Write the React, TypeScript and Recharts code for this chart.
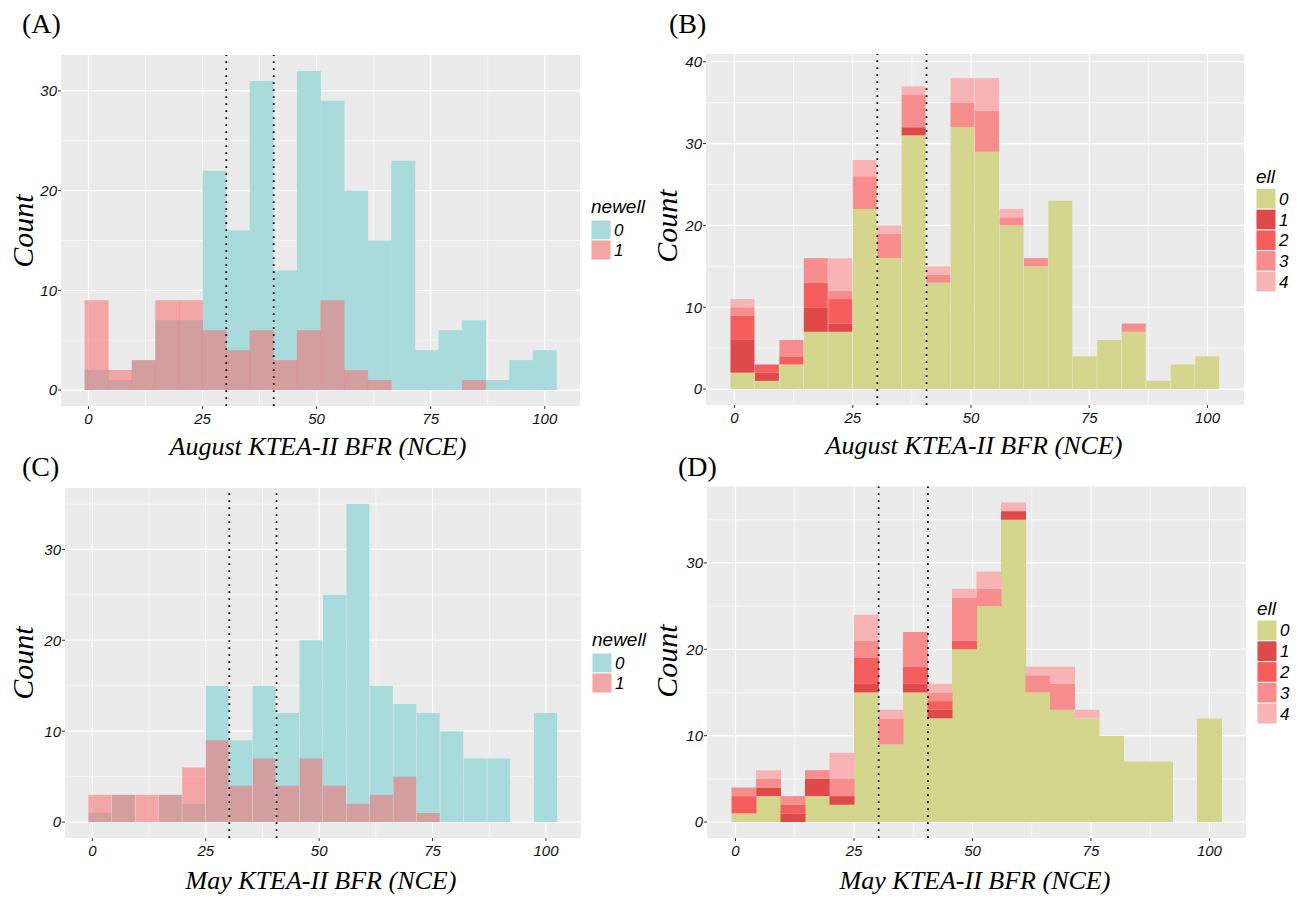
import React from 'react';
import { BarChart, Bar, XAxis, YAxis, CartesianGrid, ReferenceLine } from 'recharts';

// ---- binning (20 histogram bins) ----
const BIN_COUNT = 20;
const BIN_START = -0.85;
const BIN_WIDTH = 5.17;

// ---- August KTEA-II BFR, by newell ----
const augNewell0 = [2, 1, 3, 7, 7, 22, 16, 31, 12, 32, 29, 20, 15, 23, 4, 6, 7, 1, 3, 4];
const augNewell1 = [9, 2, 3, 9, 9, 6, 4, 6, 3, 6, 9, 2, 1, 0, 0, 0, 1, 0, 0, 0];

// ---- August KTEA-II BFR, by ell ----
const augEll0 = [2, 1, 3, 7, 7, 22, 16, 31, 13, 32, 29, 20, 15, 23, 4, 6, 7, 1, 3, 4];
const augEll1 = [4, 1, 0, 3, 1, 0, 0, 1, 0, 0, 0, 0, 0, 0, 0, 0, 0, 0, 0, 0];
const augEll2 = [3, 1, 1, 3, 3, 0, 0, 0, 0, 0, 0, 0, 0, 0, 0, 0, 0, 0, 0, 0];
const augEll3 = [1, 0, 2, 3, 1, 4, 3, 4, 1, 3, 5, 1, 1, 0, 0, 0, 1, 0, 0, 0];
const augEll4 = [1, 0, 0, 0, 4, 2, 1, 1, 1, 3, 4, 1, 0, 0, 0, 0, 0, 0, 0, 0];

// ---- May KTEA-II BFR, by newell ----
const mayNewell0 = [1, 3, 0, 3, 2, 15, 9, 15, 12, 20, 25, 35, 15, 13, 12, 10, 7, 7, 0, 12];
const mayNewell1 = [3, 3, 3, 3, 6, 9, 4, 7, 4, 7, 4, 2, 3, 5, 1, 0, 0, 0, 0, 0];

// ---- May KTEA-II BFR, by ell ----
const mayEll0 = [1, 3, 0, 3, 2, 15, 9, 15, 12, 20, 25, 35, 15, 13, 12, 10, 7, 7, 0, 12];
const mayEll1 = [0, 1, 1, 2, 1, 1, 0, 1, 1, 0, 0, 1, 0, 0, 0, 0, 0, 0, 0, 0];
const mayEll2 = [2, 0, 1, 0, 0, 3, 0, 2, 1, 1, 0, 0, 0, 0, 0, 0, 0, 0, 0, 0];
const mayEll3 = [1, 1, 1, 1, 2, 2, 3, 4, 1, 5, 2, 0, 2, 3, 0, 0, 0, 0, 0, 0];
const mayEll4 = [0, 1, 0, 0, 3, 3, 1, 0, 1, 1, 2, 1, 1, 2, 1, 0, 0, 0, 0, 0];

// ---- axes ----
const xTicks = [0, 25, 50, 75, 100];
const xMinor = [12.5, 37.5, 62.5, 87.5];
const cutLines = [30.2, 40.6];
const yMajorA = [0, 10, 20, 30];
const yMinorA = [5, 15, 25];
const yMajorB = [0, 10, 20, 30, 40];
const yMinorB = [5, 15, 25, 35];
const yMajorC = [0, 10, 20, 30];
const yMinorC = [5, 15, 25, 35];
const yMajorD = [0, 10, 20, 30];
const yMinorD = [5, 15, 25, 35];

const newellLevels = ['0', '1'];
const ellLevels = ['0', '1', '2', '3', '4'];

const TEAL = '#A9DBDC';
const PINK = '#FD6161';
const ELL_COLORS = ['#D4D68D', '#E04949', '#F65E5E', '#F78D8D', '#F8B4B4'];
const NEWELL_KEY = ['#A9DBDC', '#F4A6A6'];

const X_DOMAIN: [number, number] = [BIN_START - BIN_WIDTH, BIN_START + (BIN_COUNT + 1) * BIN_WIDTH];

function buildRows(series: Record<string, number[]>) {
  const rows: any[] = [];
  for (let i = -1; i <= BIN_COUNT; i++) {
    const row: any = { bin: 'b' + i, mid: BIN_START + BIN_WIDTH * (i + 0.5) };
    for (const k of Object.keys(series)) {
      row[k] = i >= 0 && i < BIN_COUNT ? series[k][i] : 0;
    }
    rows.push(row);
  }
  return rows;
}

const dataA = buildRows({ n0: augNewell0, n1: augNewell1 });
const dataB = buildRows({ e0: augEll0, e1: augEll1, e2: augEll2, e3: augEll3, e4: augEll4 });
const dataC = buildRows({ n0: mayNewell0, n1: mayNewell1 });
const dataD = buildRows({ e0: mayEll0, e1: mayEll1, e2: mayEll2, e3: mayEll3, e4: mayEll4 });

const TICK_FONT = '"Liberation Sans", Arial, sans-serif';
const tickStyle = {
  fontFamily: TICK_FONT,
  fontStyle: 'italic',
  fontSize: 15,
  fill: '#111111',
};

type PanelProps = {
  left: number;
  top: number;
  width: number;
  height: number;
  margin: { top: number; right: number; bottom: number; left: number };
  data: any[];
  kind: 'overlap' | 'stack';
  yDomain: [number, number];
  yMajor: number[];
  yMinor: number[];
};

function Panel(p: PanelProps) {
  return (
    <div style={{ position: 'absolute', left: p.left, top: p.top, width: p.width, height: p.height }}>
      <BarChart width={p.width} height={p.height} data={p.data} margin={p.margin} barCategoryGap={0} barGap={0}>
        <XAxis xAxisId="c0" dataKey="bin" hide orientation="top" height={0} />
        <XAxis xAxisId="c1" dataKey="bin" hide orientation="top" height={0} />
        <XAxis
          xAxisId="num"
          type="number"
          dataKey="mid"
          domain={X_DOMAIN}
          allowDataOverflow
          ticks={xTicks}
          interval={0}
          tickSize={3}
          tickMargin={4}
          axisLine={false}
          tickLine={{ stroke: '#333333' }}
          tick={tickStyle}
          fontSize={15}
          fontFamily={TICK_FONT}
          height={30}
        />
        <YAxis
          type="number"
          domain={p.yDomain}
          allowDataOverflow
          ticks={p.yMajor}
          interval={0}
          width={40}
          tickSize={3}
          tickMargin={1}
          axisLine={false}
          tickLine={{ stroke: '#333333' }}
          tick={tickStyle}
          fontSize={15}
          fontFamily={TICK_FONT}
        />
        <CartesianGrid
          xAxisId="num"
          fill="#EBEBEB"
          fillOpacity={1}
          stroke="#FFFFFF"
          strokeWidth={0.6}
          verticalValues={xMinor}
          horizontalValues={p.yMinor}
        />
        <CartesianGrid
          xAxisId="num"
          stroke="#FFFFFF"
          strokeWidth={1.2}
          verticalValues={xTicks}
          horizontalValues={p.yMajor}
        />
        {p.kind === 'overlap'
          ? [
              <Bar key="n0" xAxisId="c0" dataKey="n0" fill={TEAL} isAnimationActive={false} />,
              <Bar key="n1" xAxisId="c1" dataKey="n1" fill={PINK} fillOpacity={0.5} isAnimationActive={false} />,
            ]
          : ['e0', 'e1', 'e2', 'e3', 'e4'].map((k, i) => (
              <Bar key={k} xAxisId="c0" dataKey={k} stackId="s" fill={ELL_COLORS[i]} isAnimationActive={false} />
            ))}
        {cutLines.map((v) => (
          <ReferenceLine
            key={v}
            xAxisId="num"
            x={v}
            stroke="#000000"
            strokeWidth={1.8}
            strokeDasharray="1.8 5.2"
          />
        ))}
      </BarChart>
    </div>
  );
}

const serifItalic = { fontFamily: '"Liberation Serif", "Times New Roman", serif', fontStyle: 'italic' as const };
const sansItalic = { fontFamily: '"Liberation Sans", Arial, sans-serif', fontStyle: 'italic' as const };

function LegendBlock(props: { x: number; titleY: number; keyTop: number; keyH: number; title: string; levels: string[]; colors: string[] }) {
  const { x, titleY, keyTop, keyH, title, levels, colors } = props;
  return (
    <g>
      <text x={x} y={titleY} fontSize={19} fill="#000" {...sansItalic}>
        {title}
      </text>
      {levels.map((lv, i) => (
        <g key={lv}>
          <rect x={x} y={keyTop + i * keyH} width={20} height={keyH} fill="#F2F2F2" stroke="#FFFFFF" strokeWidth={1} />
          <rect x={x + 0.5} y={keyTop + i * keyH + 0.5} width={19} height={keyH - 1} fill={colors[i]} />
          <text x={x + 23} y={keyTop + i * keyH + keyH / 2 + 6} fontSize={17} fill="#000" {...sansItalic}>
            {lv}
          </text>
        </g>
      ))}
    </g>
  );
}

export default function App() {
  return (
    <div style={{ position: 'absolute', left: 0, top: 0, width: 1299, height: 903, background: '#FFFFFF' }}>
      <Panel
        left={0}
        top={0}
        width={640}
        height={470}
        margin={{ top: 55, right: 60, bottom: 34, left: 21 }}
        data={dataA}
        kind="overlap"
        yDomain={[-1.6, 33.6]}
        yMajor={yMajorA}
        yMinor={yMinorA}
      />
      <Panel
        left={640}
        top={0}
        width={659}
        height={470}
        margin={{ top: 54, right: 55, bottom: 35, left: 26 }}
        data={dataB}
        kind="stack"
        yDomain={[-1.95, 40.95]}
        yMajor={yMajorB}
        yMinor={yMinorB}
      />
      <Panel
        left={0}
        top={470}
        width={640}
        height={433}
        margin={{ top: 18, right: 59, bottom: 35, left: 25 }}
        data={dataC}
        kind="overlap"
        yDomain={[-1.75, 36.75]}
        yMajor={yMajorC}
        yMinor={yMinorC}
      />
      <Panel
        left={640}
        top={470}
        width={659}
        height={433}
        margin={{ top: 16.5, right: 53, bottom: 35, left: 27 }}
        data={dataD}
        kind="stack"
        yDomain={[-1.85, 38.85]}
        yMajor={yMajorD}
        yMinor={yMinorD}
      />
      <svg
        width={1299}
        height={903}
        style={{ position: 'absolute', left: 0, top: 0, pointerEvents: 'none' }}
      >
        {/* panel letters */}
        <text x={22} y={33} fontSize={28} fontFamily='"Liberation Serif", "Times New Roman", serif' fill="#000">(A)</text>
        <text x={669} y={33} fontSize={28} fontFamily='"Liberation Serif", "Times New Roman", serif' fill="#000">(B)</text>
        <text x={22} y={476} fontSize={28} fontFamily='"Liberation Serif", "Times New Roman", serif' fill="#000">(C)</text>
        <text x={678} y={476} fontSize={28} fontFamily='"Liberation Serif", "Times New Roman", serif' fill="#000">(D)</text>

        {/* x titles */}
        <text x={318} y={455} fontSize={26} textAnchor="middle" fill="#000" {...serifItalic}>August KTEA-II BFR (NCE)</text>
        <text x={974} y={454} fontSize={26} textAnchor="middle" fill="#000" {...serifItalic}>August KTEA-II BFR (NCE)</text>
        <text x={321} y={889} fontSize={26} textAnchor="middle" fill="#000" {...serifItalic}>May KTEA-II BFR (NCE)</text>
        <text x={975} y={889} fontSize={26} textAnchor="middle" fill="#000" {...serifItalic}>May KTEA-II BFR (NCE)</text>

        {/* y titles */}
        <text transform="translate(33,231) rotate(-90)" fontSize={30} textAnchor="middle" fill="#000" {...serifItalic}>Count</text>
        <text transform="translate(677,226) rotate(-90)" fontSize={30} textAnchor="middle" fill="#000" {...serifItalic}>Count</text>
        <text transform="translate(33,663) rotate(-90)" fontSize={30} textAnchor="middle" fill="#000" {...serifItalic}>Count</text>
        <text transform="translate(677,661) rotate(-90)" fontSize={30} textAnchor="middle" fill="#000" {...serifItalic}>Count</text>

        {/* legends */}
        <LegendBlock x={591} titleY={213} keyTop={220} keyH={20} title="newell" levels={newellLevels} colors={NEWELL_KEY} />
        <LegendBlock x={1256} titleY={183} keyTop={188.5} keyH={20.7} title="ell" levels={ellLevels} colors={ELL_COLORS} />
        <LegendBlock x={592} titleY={646} keyTop={653} keyH={20} title="newell" levels={newellLevels} colors={NEWELL_KEY} />
        <LegendBlock x={1257} titleY={615} keyTop={620} keyH={20.8} title="ell" levels={ellLevels} colors={ELL_COLORS} />
      </svg>
    </div>
  );
}
